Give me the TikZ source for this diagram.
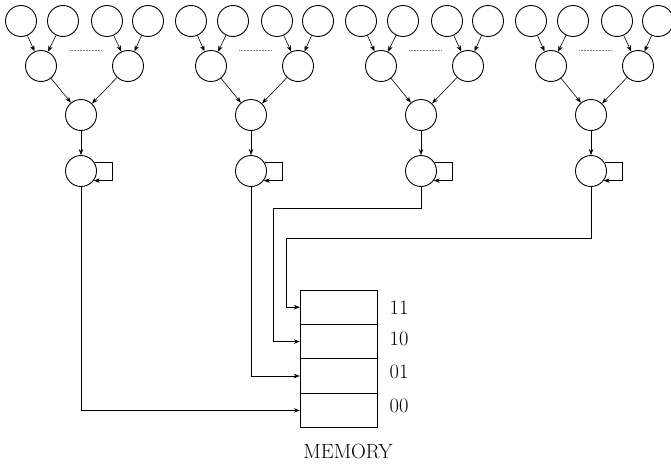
\documentclass[tikz,border=0pt]{standalone}
\usetikzlibrary{arrows.meta,calc}
\begin{document}
\begin{tikzpicture}[x=1pt,y=-1pt,
  cell/.style={circle,draw,line width=0.9pt,minimum size=31pt,inner sep=0pt},
  conn/.style={line width=0.6pt,-{Stealth[length=6pt,width=4.5pt]}},
  slot/.style={rectangle,draw,line width=0.9pt,minimum width=77.5pt,minimum height=34.4pt,inner sep=0pt},
  addr/.style={font=\fontsize{20.5}{24}\selectfont,inner sep=0pt}]
\useasboundingbox (0,0) rectangle (671,463);

% four reduction trees, each ending in a register with a feedback loop
\foreach \t/\ox in {1/0,2/170,3/340,4/510}{
  \node[cell] (l\t1) at (\ox+21,21) {};
  \node[cell] (l\t2) at (\ox+63,21) {};
  \node[cell] (l\t3) at (\ox+107,21) {};
  \node[cell] (l\t4) at (\ox+148,21) {};
  \node[cell] (m\t1) at (\ox+41,66) {};
  \node[cell] (m\t2) at (\ox+128,66) {};
  \node[cell] (r\t) at (\ox+81,115) {};
  \node[cell] (s\t) at (\ox+81,171) {};
  \draw[conn] (l\t1) -- (m\t1);
  \draw[conn] (l\t2) -- (m\t1);
  \draw[conn] (l\t3) -- (m\t2);
  \draw[conn] (l\t4) -- (m\t2);
  \draw[line width=0.5pt,densely dotted,gray] (\ox+69,50) -- (\ox+102,50);
  \draw[conn] (m\t1) -- (r\t);
  \draw[conn] (m\t2) -- (r\t);
  \draw[conn] (r\t) -- (s\t);
  \draw[conn] (s\t.32) -- ++(18,0) |- (s\t.-37);
}

% memory with four addressed slots
\node[slot] (mem11) at (339,307.2) {};
\node[slot] (mem10) at (339,341.6) {};
\node[slot] (mem01) at (339,376) {};
\node[slot] (mem00) at (339,410.4) {};
\node[addr] (lab11) at (399,308) {11};
\node[addr] (lab10) at (399,339) {10};
\node[addr] (lab01) at (399,372) {01};
\node[addr] (lab00) at (399,406) {00};
\node[addr] (memlabel) at (348,451) {MEMORY};

% register outputs routed to the memory slots
\coordinate (b3) at (273,208);
\coordinate (b4) at (286,238);
\draw[conn] (s1.south) |- (mem00.west);
\draw[conn] (s2.south) |- (mem01.west);
\draw[conn] (s3.south) |- (b3) |- (mem10.west);
\draw[conn] (s4.south) |- (b4) |- (mem11.west);
\end{tikzpicture}
\end{document}
